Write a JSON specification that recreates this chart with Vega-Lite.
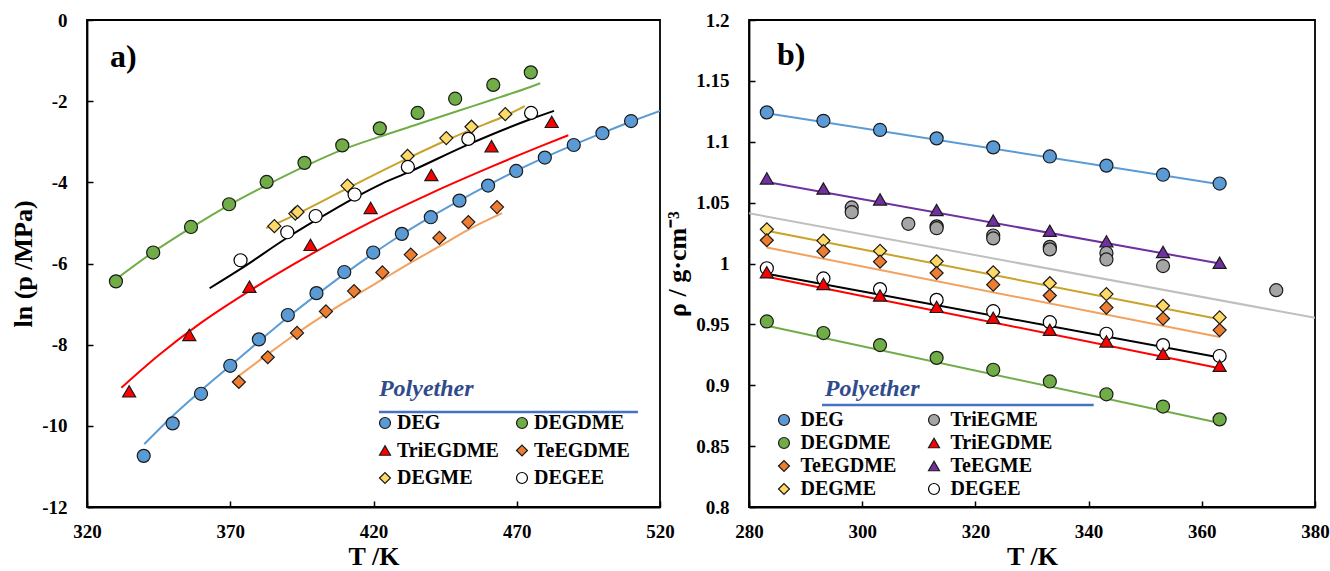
{
  "$schema": "https://vega.github.io/schema/vega-lite/v6.json",
  "padding": {"left": 9, "top": 10, "right": 0, "bottom": 0},
  "background": "white",
  "datasets": {
    "pointsA": [
      {"series":"DEG","T":339.8,"v":-10.74},{"series":"DEG","T":349.9,"v":-9.94},{"series":"DEG","T":359.8,"v":-9.21},{"series":"DEG","T":370.0,"v":-8.52},{"series":"DEG","T":380.0,"v":-7.87},{"series":"DEG","T":390.1,"v":-7.27},{"series":"DEG","T":400.1,"v":-6.73},{"series":"DEG","T":409.8,"v":-6.21},{"series":"DEG","T":419.9,"v":-5.73},{"series":"DEG","T":429.9,"v":-5.27},{"series":"DEG","T":440.0,"v":-4.86},{"series":"DEG","T":450.0,"v":-4.45},{"series":"DEG","T":460.0,"v":-4.08},{"series":"DEG","T":469.8,"v":-3.72},{"series":"DEG","T":479.8,"v":-3.39},{"series":"DEG","T":489.9,"v":-3.08},{"series":"DEG","T":499.9,"v":-2.79},{"series":"DEG","T":509.9,"v":-2.49},
      {"series":"DEGDME","T":330.1,"v":-6.44},{"series":"DEGDME","T":343.1,"v":-5.73},{"series":"DEGDME","T":356.3,"v":-5.10},{"series":"DEGDME","T":369.6,"v":-4.54},{"series":"DEGDME","T":382.7,"v":-3.99},{"series":"DEGDME","T":395.9,"v":-3.52},{"series":"DEGDME","T":409.1,"v":-3.09},{"series":"DEGDME","T":422.2,"v":-2.67},{"series":"DEGDME","T":435.4,"v":-2.29},{"series":"DEGDME","T":448.5,"v":-1.94},{"series":"DEGDME","T":461.8,"v":-1.60},{"series":"DEGDME","T":474.9,"v":-1.29},
      {"series":"TriEGDME","T":334.7,"v":-9.15},{"series":"TriEGDME","T":355.7,"v":-7.76},{"series":"TriEGDME","T":376.7,"v":-6.57},{"series":"TriEGDME","T":398.0,"v":-5.54},{"series":"TriEGDME","T":419.0,"v":-4.63},{"series":"TriEGDME","T":440.2,"v":-3.82},{"series":"TriEGDME","T":461.2,"v":-3.11},{"series":"TriEGDME","T":482.2,"v":-2.51},
      {"series":"TeEGDME","T":373.0,"v":-8.92},{"series":"TeEGDME","T":383.1,"v":-8.31},{"series":"TeEGDME","T":393.3,"v":-7.71},{"series":"TeEGDME","T":403.4,"v":-7.18},{"series":"TeEGDME","T":413.2,"v":-6.68},{"series":"TeEGDME","T":423.1,"v":-6.22},{"series":"TeEGDME","T":433.0,"v":-5.78},{"series":"TeEGDME","T":443.0,"v":-5.37},{"series":"TeEGDME","T":453.1,"v":-4.98},{"series":"TeEGDME","T":463.1,"v":-4.61},
      {"series":"DEGME","T":385.4,"v":-5.08},{"series":"DEGME","T":392.7,"v":-4.77},{"series":"DEGME","T":393.5,"v":-4.73},{"series":"DEGME","T":410.9,"v":-4.08},{"series":"DEGME","T":431.9,"v":-3.35},{"series":"DEGME","T":445.4,"v":-2.91},{"series":"DEGME","T":454.2,"v":-2.63},{"series":"DEGME","T":466.0,"v":-2.32},
      {"series":"DEGEE","T":373.6,"v":-5.92},{"series":"DEGEE","T":389.9,"v":-5.23},{"series":"DEGEE","T":399.8,"v":-4.83},{"series":"DEGEE","T":413.4,"v":-4.30},{"series":"DEGEE","T":432.0,"v":-3.62},{"series":"DEGEE","T":453.1,"v":-2.93},{"series":"DEGEE","T":475.0,"v":-2.29}
    ],
    "linesA": [
      {"series":"DEG","T":340,"v":-10.45},{"series":"DEG","T":350,"v":-9.75},{"series":"DEG","T":360,"v":-9.12},{"series":"DEG","T":370,"v":-8.52},{"series":"DEG","T":380,"v":-7.92},{"series":"DEG","T":390,"v":-7.33},{"series":"DEG","T":400,"v":-6.78},{"series":"DEG","T":410,"v":-6.25},{"series":"DEG","T":420,"v":-5.75},{"series":"DEG","T":430,"v":-5.28},{"series":"DEG","T":440,"v":-4.85},{"series":"DEG","T":450,"v":-4.45},{"series":"DEG","T":460,"v":-4.07},{"series":"DEG","T":470,"v":-3.71},{"series":"DEG","T":480,"v":-3.38},{"series":"DEG","T":490,"v":-3.07},{"series":"DEG","T":500,"v":-2.78},{"series":"DEG","T":510,"v":-2.5},{"series":"DEG","T":520,"v":-2.24},
      {"series":"DEGDME","T":329.5,"v":-6.42},{"series":"DEGDME","T":342.7,"v":-5.74},{"series":"DEGDME","T":356.1,"v":-5.13},{"series":"DEGDME","T":369.1,"v":-4.58},{"series":"DEGDME","T":382.4,"v":-4.08},{"series":"DEGDME","T":395.6,"v":-3.62},{"series":"DEGDME","T":409,"v":-3.2},{"series":"DEGDME","T":422,"v":-2.88},{"series":"DEGDME","T":435.4,"v":-2.57},{"series":"DEGDME","T":448.6,"v":-2.26},{"series":"DEGDME","T":461.7,"v":-1.96},{"series":"DEGDME","T":474.7,"v":-1.65},{"series":"DEGDME","T":478.2,"v":-1.56},
      {"series":"TriEGDME","T":332,"v":-9.06},{"series":"TriEGDME","T":345,"v":-8.26},{"series":"TriEGDME","T":360,"v":-7.45},{"series":"TriEGDME","T":377,"v":-6.66},{"series":"TriEGDME","T":398,"v":-5.78},{"series":"TriEGDME","T":419,"v":-4.98},{"series":"TriEGDME","T":440,"v":-4.27},{"series":"TriEGDME","T":461,"v":-3.62},{"series":"TriEGDME","T":478,"v":-3.12},{"series":"TriEGDME","T":488,"v":-2.84},
      {"series":"TeEGDME","T":372.6,"v":-8.79},{"series":"TeEGDME","T":383,"v":-8.24},{"series":"TeEGDME","T":393,"v":-7.73},{"series":"TeEGDME","T":403,"v":-7.26},{"series":"TeEGDME","T":413,"v":-6.82},{"series":"TeEGDME","T":423,"v":-6.4},{"series":"TeEGDME","T":433,"v":-5.98},{"series":"TeEGDME","T":443,"v":-5.58},{"series":"TeEGDME","T":453,"v":-5.17},{"series":"TeEGDME","T":464.9,"v":-4.76},
      {"series":"DEGME","T":382.5,"v":-5.13},{"series":"DEGME","T":392.7,"v":-4.8},{"series":"DEGME","T":410.8,"v":-4.15},{"series":"DEGME","T":431.9,"v":-3.41},{"series":"DEGME","T":445.3,"v":-2.97},{"series":"DEGME","T":454.1,"v":-2.7},{"series":"DEGME","T":466,"v":-2.36},{"series":"DEGME","T":472.8,"v":-2.12},
      {"series":"DEGEE","T":362.8,"v":-6.61},{"series":"DEGEE","T":373.5,"v":-6.14},{"series":"DEGEE","T":390,"v":-5.36},{"series":"DEGEE","T":399.7,"v":-4.94},{"series":"DEGEE","T":413.4,"v":-4.38},{"series":"DEGEE","T":423,"v":-4.03},{"series":"DEGEE","T":431.9,"v":-3.76},{"series":"DEGEE","T":453,"v":-3.07},{"series":"DEGEE","T":475,"v":-2.44},{"series":"DEGEE","T":483,"v":-2.24}
    ],
    "pointsB": [
      {"series":"DEG","T":283.15,"rho":1.1241},{"series":"DEG","T":293.15,"rho":1.1172},{"series":"DEG","T":303.15,"rho":1.1097},{"series":"DEG","T":313.15,"rho":1.1028},{"series":"DEG","T":323.15,"rho":1.0954},{"series":"DEG","T":333.15,"rho":1.0879},{"series":"DEG","T":343.15,"rho":1.0804},{"series":"DEG","T":353.15,"rho":1.0729},{"series":"DEG","T":363.15,"rho":1.0657},
      {"series":"TeEGME","T":283.15,"rho":1.0699},{"series":"TeEGME","T":293.15,"rho":1.0616},{"series":"TeEGME","T":303.15,"rho":1.0526},{"series":"TeEGME","T":313.15,"rho":1.0439},{"series":"TeEGME","T":323.15,"rho":1.0353},{"series":"TeEGME","T":333.15,"rho":1.0269},{"series":"TeEGME","T":343.15,"rho":1.0182},{"series":"TeEGME","T":353.15,"rho":1.0095},{"series":"TeEGME","T":363.15,"rho":1.0006},
      {"series":"TriEGME","T":298.15,"rho":1.046},{"series":"TriEGME","T":298.15,"rho":1.0421},{"series":"TriEGME","T":308.15,"rho":1.0326},{"series":"TriEGME","T":313.15,"rho":1.0305},{"series":"TriEGME","T":313.15,"rho":1.029},{"series":"TriEGME","T":323.15,"rho":1.023},{"series":"TriEGME","T":323.15,"rho":1.0206},{"series":"TriEGME","T":333.15,"rho":1.0137},{"series":"TriEGME","T":333.15,"rho":1.0116},{"series":"TriEGME","T":343.15,"rho":1.0086},{"series":"TriEGME","T":343.15,"rho":1.0033},{"series":"TriEGME","T":353.15,"rho":0.9979},{"series":"TriEGME","T":373.15,"rho":0.9781},
      {"series":"DEGME","T":283.15,"rho":1.0281},{"series":"DEGME","T":293.15,"rho":1.0188},{"series":"DEGME","T":303.15,"rho":1.0104},{"series":"DEGME","T":313.15,"rho":1.0018},{"series":"DEGME","T":323.15,"rho":0.9928},{"series":"DEGME","T":333.15,"rho":0.9838},{"series":"DEGME","T":343.15,"rho":0.9749},{"series":"DEGME","T":353.15,"rho":0.9653},{"series":"DEGME","T":363.15,"rho":0.9557},
      {"series":"TeEGDME","T":283.15,"rho":1.0191},{"series":"TeEGDME","T":293.15,"rho":1.0101},{"series":"TeEGDME","T":303.15,"rho":1.0015},{"series":"TeEGDME","T":313.15,"rho":0.9922},{"series":"TeEGDME","T":323.15,"rho":0.9826},{"series":"TeEGDME","T":333.15,"rho":0.9737},{"series":"TeEGDME","T":343.15,"rho":0.9638},{"series":"TeEGDME","T":353.15,"rho":0.9548},{"series":"TeEGDME","T":363.15,"rho":0.9453},
      {"series":"DEGEE","T":283.15,"rho":0.9961},{"series":"DEGEE","T":293.15,"rho":0.9877},{"series":"DEGEE","T":303.15,"rho":0.979},{"series":"DEGEE","T":313.15,"rho":0.9701},{"series":"DEGEE","T":323.15,"rho":0.9608},{"series":"DEGEE","T":333.15,"rho":0.9518},{"series":"DEGEE","T":343.15,"rho":0.9423},{"series":"DEGEE","T":353.15,"rho":0.933},{"series":"DEGEE","T":363.15,"rho":0.924},
      {"series":"TriEGDME","T":283.15,"rho":0.9928},{"series":"TriEGDME","T":293.15,"rho":0.9832},{"series":"TriEGDME","T":303.15,"rho":0.9737},{"series":"TriEGDME","T":313.15,"rho":0.9644},{"series":"TriEGDME","T":323.15,"rho":0.9554},{"series":"TriEGDME","T":333.15,"rho":0.9456},{"series":"TriEGDME","T":343.15,"rho":0.936},{"series":"TriEGDME","T":353.15,"rho":0.9258},{"series":"TriEGDME","T":363.15,"rho":0.916},
      {"series":"DEGDME","T":283.15,"rho":0.9524},{"series":"DEGDME","T":293.15,"rho":0.9429},{"series":"DEGDME","T":303.15,"rho":0.933},{"series":"DEGDME","T":313.15,"rho":0.9225},{"series":"DEGDME","T":323.15,"rho":0.9127},{"series":"DEGDME","T":333.15,"rho":0.9031},{"series":"DEGDME","T":343.15,"rho":0.8926},{"series":"DEGDME","T":353.15,"rho":0.8825},{"series":"DEGDME","T":363.15,"rho":0.872}
    ],
    "linesB": [
      {"series":"DEG","T":283.15,"rho":1.1235},{"series":"DEG","T":363.15,"rho":1.0651},
      {"series":"TeEGME","T":283.15,"rho":1.0669},{"series":"TeEGME","T":363.15,"rho":1.0},
      {"series":"TriEGME","T":280,"rho":1.0412},{"series":"TriEGME","T":380,"rho":0.9554},
      {"series":"DEGME","T":283.15,"rho":1.0269},{"series":"DEGME","T":363.15,"rho":0.9542},
      {"series":"TeEGDME","T":283.15,"rho":1.0131},{"series":"TeEGDME","T":363.15,"rho":0.9396},
      {"series":"DEGEE","T":283.15,"rho":0.9916},{"series":"DEGEE","T":363.15,"rho":0.9228},
      {"series":"TriEGDME","T":283.15,"rho":0.9892},{"series":"TriEGDME","T":363.15,"rho":0.9139},
      {"series":"DEGDME","T":283.15,"rho":0.9488},{"series":"DEGDME","T":363.15,"rho":0.869}
    ]
  },
  "hconcat": [
    {
      "width": 573,
      "height": 487,
      "layer": [
        {
          "data": {"name": "linesA"},
          "mark": {"type": "line", "strokeWidth": 2, "interpolate": "monotone", "clip": true},
          "encoding": {
            "x": {"field": "T", "type": "quantitative", "scale": {"domain": [320, 520], "nice": false, "zero": false},
                  "axis": {"values": [320, 370, 420, 470, 520], "title": "T /K"}},
            "y": {"field": "v", "type": "quantitative", "scale": {"domain": [-12, 0], "nice": false, "zero": false},
                  "axis": {"values": [-12, -10, -8, -6, -4, -2, 0], "title": "ln (p /MPa)", "labelExpr": "'' + datum.value"}},
            "color": {"field": "series", "type": "nominal", "legend": null,
                       "scale": {"domain": ["DEGEE", "DEGME", "TeEGDME", "TriEGDME", "DEGDME", "DEG"],
                                 "range": ["#000000", "#C9A227", "#F4A15D", "#FF0000", "#70AD47", "#5B9BD5"]}}
          }
        },
        {
          "data": {"name": "pointsA"},
          "mark": {"type": "point", "filled": true, "strokeWidth": 1.2, "opacity": 1},
          "encoding": {
            "x": {"field": "T", "type": "quantitative"},
            "y": {"field": "v", "type": "quantitative"},
            "fill": {"field": "series", "type": "nominal",
                     "scale": {"domain": ["DEG", "DEGDME", "TriEGDME", "TeEGDME", "DEGME", "DEGEE"],
                               "range": ["#5B9BD5", "#70AD47", "#FF0000", "#ED7D31", "#FFD966", "#FFFFFF"]},
                     "legend": {"orient": "none", "legendX": 288, "legendY": 393, "columns": 2, "direction": "horizontal", "title": null,
                                "rowPadding": 7.5, "columnPadding": 13, "labelOffset": 2}},
            "shape": {"field": "series", "type": "nominal",
                      "scale": {"domain": ["DEG", "DEGDME", "TriEGDME", "TeEGDME", "DEGME", "DEGEE"],
                                "range": ["circle", "circle", "triangle-up", "diamond", "diamond", "circle"]},
                      "legend": {"orient": "none", "legendX": 288, "legendY": 393, "columns": 2, "direction": "horizontal", "title": null,
                                "rowPadding": 7.5, "columnPadding": 13, "labelOffset": 2}},
            "stroke": {"field": "series", "type": "nominal",
                       "scale": {"domain": ["DEG", "DEGDME", "TriEGDME", "TeEGDME", "DEGME", "DEGEE"],
                                 "range": ["#1a1a1a", "#1a1a1a", "#1a1a1a", "#1a1a1a", "#1a1a1a", "#000000"]},
                       "legend": {"orient": "none", "legendX": 288, "legendY": 393, "columns": 2, "direction": "horizontal", "title": null,
                                "rowPadding": 7.5, "columnPadding": 13, "labelOffset": 2}},
            "size": {"field": "series", "type": "nominal", "legend": null,
                     "scale": {"domain": ["DEGDME", "DEG", "TeEGDME", "TriEGDME", "DEGEE", "DEGME"],
                               "range": [170, 170, 140, 200, 150, 140]}}
          }
        },
        {
          "data": {"values": [{}]},
          "mark": {"type": "rule", "color": "#4472C4", "strokeWidth": 2.5},
          "encoding": {"x": {"datum": 421.9}, "x2": {"datum": 512.3}, "y": {"datum": -9.66}}
        },
        {
          "data": {"values": [{}]},
          "mark": {"type": "text", "text": "Polyether", "font": "Liberation Serif", "fontSize": 24, "fontStyle": "italic", "fontWeight": "bold", "color": "#2F4B8C", "align": "left", "baseline": "middle"},
          "encoding": {"x": {"datum": 421.9}, "y": {"datum": -9.09}}
        },
        {
          "data": {"values": [{}]},
          "mark": {"type": "text", "text": "a)", "font": "Liberation Serif", "fontSize": 32, "fontWeight": "bold", "color": "#000", "align": "left", "baseline": "alphabetic"},
          "encoding": {"x": {"datum": 328.0}, "y": {"datum": -1.15}}
        }
      ]
    },
    {
      "width": 566,
      "height": 487,
      "layer": [
        {
          "data": {"name": "linesB"},
          "mark": {"type": "line", "strokeWidth": 2, "clip": true},
          "encoding": {
            "x": {"field": "T", "type": "quantitative", "scale": {"domain": [280, 380], "nice": false, "zero": false},
                  "axis": {"values": [280, 300, 320, 340, 360, 380], "title": "T /K"}},
            "y": {"field": "rho", "type": "quantitative", "scale": {"domain": [0.8, 1.2], "nice": false, "zero": false},
                  "axis": {"values": [0.8, 0.85, 0.9, 0.95, 1, 1.05, 1.1, 1.15, 1.2], "format": ".2~f", "title": "ρ / g·cm⁻³"}},
            "color": {"field": "series", "type": "nominal", "legend": null,
                       "scale": {"domain": ["DEGEE", "DEGME", "TeEGME", "TeEGDME", "TriEGDME", "DEGDME", "TriEGME", "DEG"],
                                 "range": ["#000000", "#C9A227", "#7030A0", "#F4A15D", "#FF0000", "#70AD47", "#BFBFBF", "#5B9BD5"]}}
          }
        },
        {
          "data": {"name": "pointsB"},
          "mark": {"type": "point", "filled": true, "strokeWidth": 1.2, "opacity": 1},
          "encoding": {
            "x": {"field": "T", "type": "quantitative"},
            "y": {"field": "rho", "type": "quantitative"},
            "fill": {"field": "series", "type": "nominal",
                     "scale": {"domain": ["DEG", "TriEGME", "DEGDME", "TriEGDME", "TeEGDME", "TeEGME", "DEGME", "DEGEE"],
                               "range": ["#5B9BD5", "#A5A5A5", "#70AD47", "#FF0000", "#ED7D31", "#7030A0", "#FFD966", "#FFFFFF"]},
                     "legend": {"orient": "none", "legendX": 25, "legendY": 390, "columns": 2, "direction": "horizontal", "title": null,
                                "rowPadding": 3, "columnPadding": 27, "labelOffset": 6.5}},
            "shape": {"field": "series", "type": "nominal",
                      "scale": {"domain": ["DEG", "TriEGME", "DEGDME", "TriEGDME", "TeEGDME", "TeEGME", "DEGME", "DEGEE"],
                                "range": ["circle", "circle", "circle", "triangle-up", "diamond", "triangle-up", "diamond", "circle"]},
                      "legend": {"orient": "none", "legendX": 25, "legendY": 390, "columns": 2, "direction": "horizontal", "title": null,
                                "rowPadding": 3, "columnPadding": 27, "labelOffset": 6.5}},
            "stroke": {"field": "series", "type": "nominal",
                       "scale": {"domain": ["DEG", "TriEGME", "DEGDME", "TriEGDME", "TeEGDME", "TeEGME", "DEGME", "DEGEE"],
                                 "range": ["#1a1a1a", "#1a1a1a", "#1a1a1a", "#1a1a1a", "#1a1a1a", "#1a1a1a", "#1a1a1a", "#000000"]},
                       "legend": {"orient": "none", "legendX": 25, "legendY": 390, "columns": 2, "direction": "horizontal", "title": null,
                                "rowPadding": 3, "columnPadding": 27, "labelOffset": 6.5}},
            "size": {"field": "series", "type": "nominal", "legend": null,
                     "scale": {"domain": ["DEGDME", "DEG", "TriEGME", "TeEGDME", "TriEGDME", "DEGEE", "TeEGME", "DEGME"],
                               "range": [170, 170, 170, 140, 190, 160, 190, 140]}}
          }
        },
        {
          "data": {"values": [{}]},
          "mark": {"type": "rule", "color": "#4472C4", "strokeWidth": 2.5},
          "encoding": {"x": {"datum": 292.9}, "x2": {"datum": 340.9}, "y": {"datum": 0.8838}}
        },
        {
          "data": {"values": [{}]},
          "mark": {"type": "text", "text": "Polyether", "font": "Liberation Serif", "fontSize": 24, "fontStyle": "italic", "fontWeight": "bold", "color": "#2F4B8C", "align": "left", "baseline": "middle"},
          "encoding": {"x": {"datum": 293.4}, "y": {"datum": 0.8969}}
        },
        {
          "data": {"values": [{}]},
          "mark": {"type": "text", "text": "b)", "font": "Liberation Serif", "fontSize": 32, "fontWeight": "bold", "color": "#000", "align": "left", "baseline": "alphabetic"},
          "encoding": {"x": {"datum": 284.95}, "y": {"datum": 1.163}}
        }
      ]
    }
  ],
  "spacing": 89,
  "bounds": "flush",
  "resolve": {
    "scale": {"color": "independent", "fill": "independent", "shape": "independent", "stroke": "independent", "size": "independent", "x": "independent", "y": "independent"},
    "legend": {"fill": "independent", "shape": "independent", "stroke": "independent"}
  },
  "config": {
    "font": "Liberation Serif",
    "view": {"stroke": "#000", "strokeWidth": 1.8},
    "axis": {
      "grid": false, "domainColor": "#000", "domainWidth": 1.8,
      "tickColor": "#000", "tickWidth": 1.5, "tickSize": -6,
      "labelFont": "Liberation Serif", "labelFontWeight": "bold", "labelFontSize": 19, "labelColor": "#000",
      "labelFlush": false, "labelOverlap": false,
      "titleFont": "Liberation Serif", "titleFontWeight": "bold", "titleFontSize": 26, "titleColor": "#000"
    },
    "axisX": {"labelPadding": 21, "titlePadding": 2},
    "axisY": {"labelPadding": 26, "titlePadding": 5},
    "legend": {
      "labelFont": "Liberation Serif", "labelFontWeight": "bold", "labelFontSize": 20, "labelColor": "#000",
      "symbolSize": 120, "symbolStrokeWidth": 1.2, "padding": 0
    }
  }
}
